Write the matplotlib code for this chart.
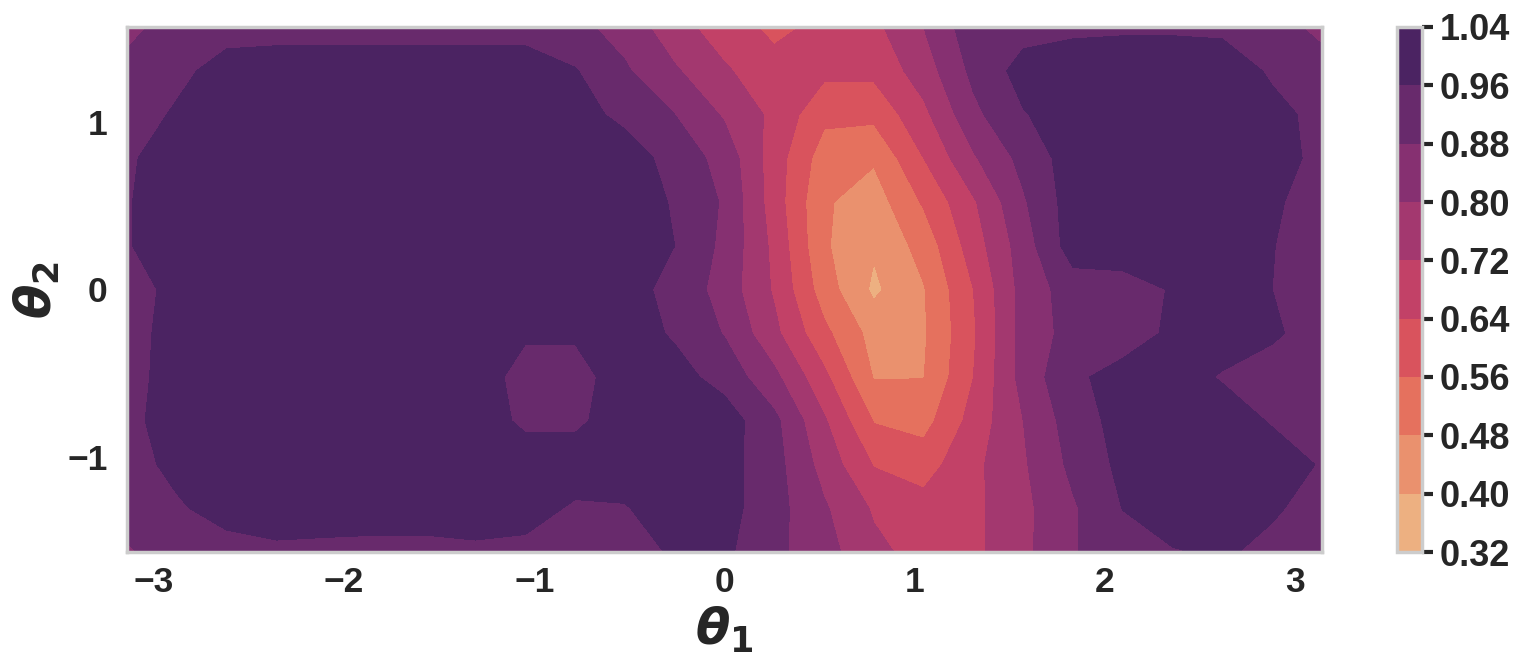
import numpy as np
import matplotlib
matplotlib.use("Agg")
import matplotlib.pyplot as plt
from matplotlib.colors import Normalize
import seaborn as sns

# grid coordinates (theta_1 along x, theta_2 along y)
theta1 = np.linspace(-np.pi, np.pi, 25)
theta2 = np.linspace(-np.pi / 2, np.pi / 2, 13)

# values, one list per theta_2 row (bottom -> top)
row_m1571 = [0.875, 0.90, 0.93, 0.945, 0.94, 0.935, 0.935, 0.945, 0.94, 0.915, 0.925, 0.97, 0.975, 0.90, 0.83, 0.74, 0.69, 0.70, 0.78, 0.875, 0.92, 0.955, 0.97, 0.94, 0.90]
row_m1309 = [0.90, 0.95, 0.99, 1.0, 1.0, 1.0, 1.0, 1.0, 0.99, 0.95, 0.955, 1.0, 0.99, 0.91, 0.81, 0.71, 0.67, 0.70, 0.78, 0.87, 0.962, 1.0, 1.0, 0.97, 0.93]
row_m1047 = [0.93, 0.98, 1.0, 1.0, 1.0, 1.0, 1.0, 1.0, 1.0, 1.0, 1.0, 1.0, 0.99, 0.91, 0.77, 0.635, 0.605, 0.70, 0.79, 0.90, 0.98, 1.0, 1.0, 0.99, 0.955]
row_m0785 = [0.94, 0.995, 1.0, 1.0, 1.0, 1.0, 1.0, 1.0, 0.945, 0.945, 1.0, 1.0, 1.0, 0.90, 0.73, 0.555, 0.53, 0.67, 0.80, 0.92, 0.99, 1.0, 0.99, 0.955, 0.93]
row_m0524 = [0.935, 0.99, 1.0, 1.0, 1.0, 1.0, 1.0, 1.0, 0.93, 0.93, 1.0, 0.99, 0.93, 0.82, 0.66, 0.475, 0.478, 0.64, 0.83, 0.945, 0.99, 0.985, 0.955, 0.93, 0.92]
row_m0262 = [0.93, 0.99, 1.0, 1.0, 1.0, 1.0, 1.0, 1.0, 0.97, 0.97, 1.0, 0.95, 0.875, 0.74, 0.58, 0.45, 0.47, 0.63, 0.83, 0.91, 0.92, 0.975, 0.99, 0.97, 0.93]
row_p0000 = [0.93, 0.98, 1.0, 1.0, 1.0, 1.0, 1.0, 1.0, 1.0, 1.0, 0.985, 0.94, 0.845, 0.71, 0.52, 0.385, 0.475, 0.64, 0.83, 0.92, 0.93, 0.965, 0.99, 0.96, 0.92]
row_p0262 = [0.955, 1.0, 1.0, 1.0, 1.0, 1.0, 1.0, 1.0, 1.0, 1.0, 1.0, 0.96, 0.86, 0.70, 0.49, 0.41, 0.51, 0.68, 0.84, 1.0, 1.0, 1.0, 1.0, 0.962, 0.93]
row_p0524 = [0.955, 1.0, 1.0, 1.0, 1.0, 1.0, 1.0, 1.0, 1.0, 1.0, 0.99, 0.955, 0.87, 0.68, 0.49, 0.44, 0.57, 0.71, 0.87, 1.0, 1.0, 1.0, 1.0, 0.97, 0.93]
row_p0785 = [0.95, 0.995, 1.0, 1.0, 1.0, 1.0, 1.0, 1.0, 1.0, 1.0, 1.0, 0.93, 0.85, 0.68, 0.52, 0.49, 0.64, 0.79, 0.905, 1.0, 1.0, 1.0, 1.0, 0.99, 0.94]
row_p1047 = [0.92, 0.97, 1.0, 1.0, 1.0, 1.0, 1.0, 1.0, 1.0, 0.99, 0.94, 0.88, 0.79, 0.70, 0.58, 0.58, 0.70, 0.86, 0.955, 1.0, 1.0, 1.0, 1.0, 0.98, 0.94]
row_p1309 = [0.90, 0.94, 0.99, 1.0, 1.0, 1.0, 1.0, 1.0, 1.0, 0.965, 0.89, 0.81, 0.73, 0.67, 0.66, 0.66, 0.76, 0.90, 0.99, 1.0, 1.0, 1.0, 1.0, 0.95, 0.91]
row_p1571 = [0.86, 0.91, 0.93, 0.93, 0.93, 0.93, 0.93, 0.93, 0.93, 0.90, 0.85, 0.75, 0.68, 0.62, 0.66, 0.70, 0.80, 0.93, 0.93, 0.945, 0.95, 0.95, 0.945, 0.91, 0.86]

levels = [0.32, 0.40, 0.48, 0.56, 0.64, 0.72, 0.80, 0.88, 0.96, 1.04]
level_labels = ["0.32", "0.40", "0.48", "0.56", "0.64", "0.72", "0.80", "0.88", "0.96", "1.04"]
xticks = [-3, -2, -1, 0, 1, 2, 3]
yticks = [-1, 0, 1]

Z = np.array([row_m1571, row_m1309, row_m1047, row_m0785, row_m0524, row_m0262,
              row_p0000, row_p0262, row_p0524, row_p0785, row_p1047, row_p1309, row_p1571])
X, Y = np.meshgrid(theta1, theta2)

sns.set_style("whitegrid")
plt.rcParams['font.family'] = ['Liberation Sans', 'DejaVu Sans']
plt.rcParams['font.weight'] = 'bold'
plt.rcParams['mathtext.fontset'] = 'dejavusans'
text_color = '#262626'
spine_color = '#cccccc'

W, H = 1528, 671
fig = plt.figure(figsize=(W / 100, H / 100), dpi=100)
ax = fig.add_axes([127 / W, (H - 552) / H, (1322 - 127) / W, (552 - 27) / H])
cax = fig.add_axes([1397 / W, (H - 552) / H, 25 / W, (552 - 27) / H])

cmap = sns.color_palette("flare", as_cmap=True)
# first band -> start of the colormap, last band -> end of the colormap
mids = [(a + b) / 2 for a, b in zip(levels[:-1], levels[1:])]
norm = Normalize(vmin=mids[0], vmax=mids[-1])
cs = ax.contourf(X, Y, Z, levels=levels, cmap=cmap, norm=norm)

ax.set_xlim(-np.pi, np.pi)
ax.set_ylim(-np.pi / 2, np.pi / 2)
ax.set_xticks(xticks)
ax.set_yticks(yticks)
ax.grid(False)
ax.tick_params(axis='x', length=0, labelsize=25.5, labelcolor=text_color, pad=10)
ax.tick_params(axis='y', length=0, labelsize=25.5, labelcolor=text_color, pad=14)
for lab in ax.get_xticklabels() + ax.get_yticklabels():
    lab.set_fontweight('bold')
for sp in ax.spines.values():
    sp.set_color(spine_color)
    sp.set_linewidth(2.5)

ax.set_xlabel(r'$\mathbfit{\theta}_{\mathbf{1}}$', fontsize=36, color=text_color, labelpad=4)
ax.set_ylabel(r'$\mathbfit{\theta}_{\mathbf{2}}$', fontsize=36, color=text_color, labelpad=4)

cbar = fig.colorbar(cs, cax=cax, ticks=levels)
cbar.ax.set_yticklabels(level_labels)
cbar.ax.tick_params(length=8, width=3, color=text_color, labelsize=26, labelcolor=text_color, pad=5)
for lab in cbar.ax.get_yticklabels():
    lab.set_fontweight('bold')
cbar.outline.set_edgecolor(spine_color)
cbar.outline.set_linewidth(2.5)

fig.savefig("out.png", dpi=100)
